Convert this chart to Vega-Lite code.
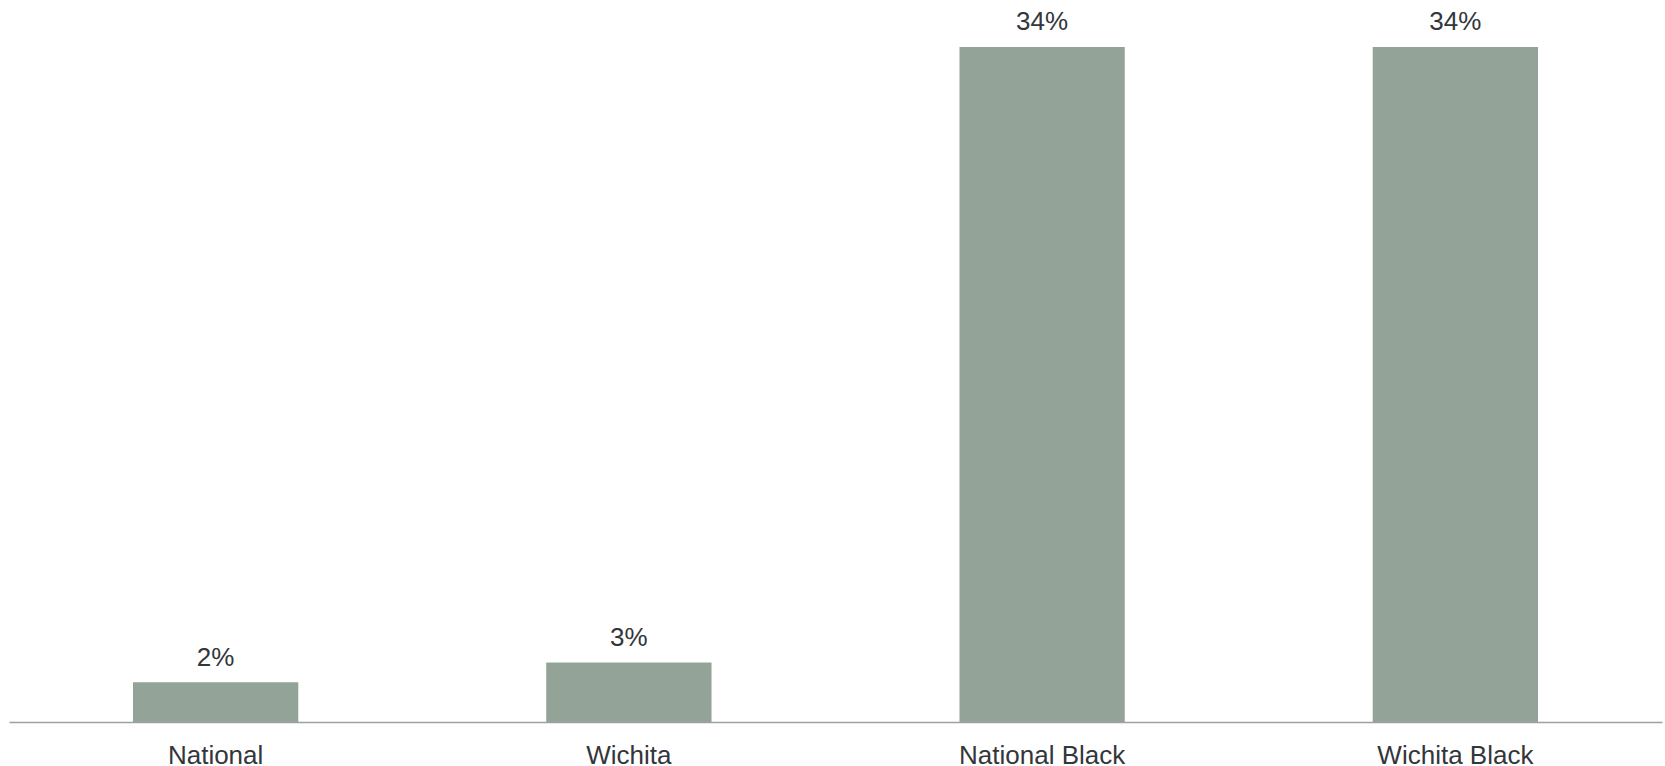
{
  "$schema": "https://vega.github.io/schema/vega-lite/v6.json",
  "width": 1653,
  "height": 675,
  "autosize": {"type": "none"},
  "padding": {"left": 9, "top": 47, "right": 3, "bottom": 44},
  "background": "white",
  "config": {"view": {"stroke": null}, "font": "Liberation Sans"},
  "data": {"values": [
    {"group": "National", "value": 2, "label": "2%"},
    {"group": "Wichita", "value": 3, "label": "3%"},
    {"group": "National Black", "value": 34, "label": "34%"},
    {"group": "Wichita Black", "value": 34, "label": "34%"}
  ]},
  "encoding": {
    "x": {
      "field": "group", "type": "nominal", "sort": null,
      "scale": {"paddingInner": 0.6, "paddingOuter": 0.3},
      "axis": {
        "title": null, "labelAngle": 0, "ticks": false, "tickSize": 0,
        "labelPadding": 20.5, "labelFontSize": 26, "labelColor": "#33363b",
        "labelFont": "Liberation Sans", "domainColor": "#a0a0a0", "domainWidth": 1.5, "grid": false
      }
    },
    "y": {
      "field": "value", "type": "quantitative",
      "scale": {"domain": [0, 34], "nice": false},
      "axis": null
    }
  },
  "layer": [
    {"mark": {"type": "bar", "color": "#93a398"}},
    {
      "mark": {"type": "text", "baseline": "alphabetic", "dy": -16.7, "fontSize": 26, "color": "#33363b", "font": "Liberation Sans"},
      "encoding": {"text": {"field": "label"}}
    }
  ]
}
